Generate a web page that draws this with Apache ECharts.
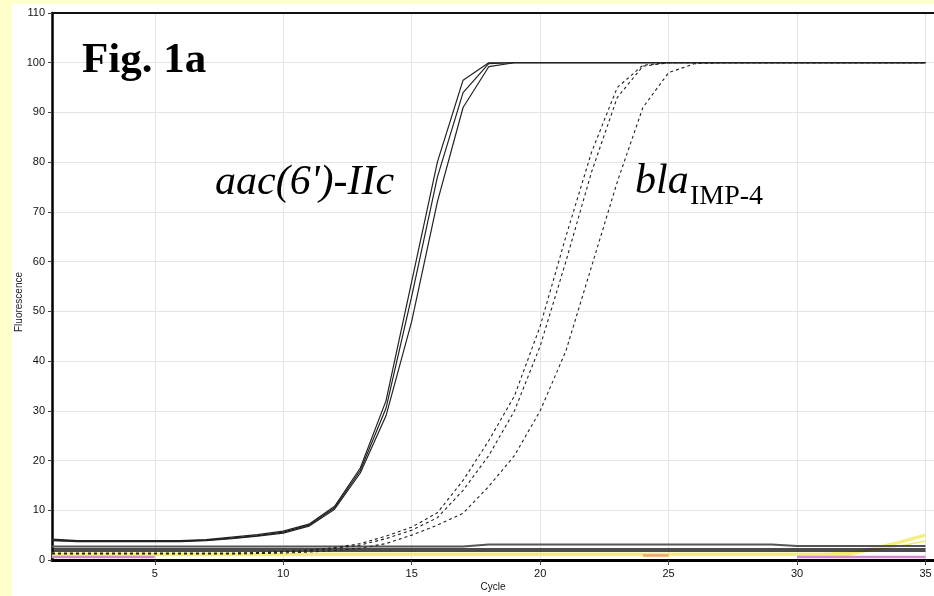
<!DOCTYPE html>
<html><head><meta charset="utf-8">
<script src="https://cdn.jsdelivr.net/npm/echarts@6/dist/echarts.min.js"></script>
<style>
html,body{margin:0;padding:0;background:#FFFFCC;width:934px;height:596px;overflow:hidden}
#c{position:absolute;left:12px;top:4px;width:922px;height:592px;background:#fff}
</style></head><body><div id="c"></div>
<script>
const cycles = [1,2,3,4,5,6,7,8,9,10,11,12,13,14,15,16,17,18,19,20,21,22,23,24,25,26,27,28,29,30,31,32,33,34,35];
const xTicks = [5,10,15,20,25,30,35];
// aac(6')-IIc (solid)
const aac1 = [4.2,3.9,3.9,3.9,3.9,3.9,4.1,4.6,5.1,5.8,7.2,10.8,18.5,32,56,80,96.5,100,100,100,100,100,100,100,100,100,100,100,100,100,100,100,100,100,100];
const aac2 = [4.0,3.8,3.8,3.8,3.8,3.8,4.0,4.4,4.9,5.6,7.0,10.5,18,30.5,53,77,94,99.8,100,100,100,100,100,100,100,100,100,100,100,100,100,100,100,100,100];
const aac3 = [3.9,3.7,3.7,3.7,3.7,3.7,3.9,4.3,4.8,5.4,6.8,10.2,17.5,29,48,72,91,99.2,100,100,100,100,100,100,100,100,100,100,100,100,100,100,100,100,100];
// blaIMP-4 (dashed)
const bla1 = [1.4,1.4,1.4,1.4,1.4,1.4,1.4,1.4,1.5,1.7,2.0,2.5,3.3,4.8,6.6,9.5,16,24,33,47,65,82,95,99.5,100,100,100,100,100,100,100,100,100,100,100];
const bla2 = [1.3,1.3,1.3,1.3,1.3,1.3,1.3,1.3,1.4,1.6,1.9,2.3,3.0,4.3,6.0,8.5,14,21,30,43,60,78,93,99.3,100,100,100,100,100,100,100,100,100,100,100];
const bla3 = [1.2,1.2,1.2,1.2,1.2,1.2,1.2,1.2,1.3,1.4,1.6,1.9,2.4,3.3,5.0,7.0,9.4,14.8,21,30,42,59,76,91,98,99.8,100,100,100,100,100,100,100,100,100];
// negative controls / baselines
const baseGray = [2.7,2.7,2.7,2.7,2.7,2.7,2.7,2.7,2.7,2.7,2.7,2.7,2.7,2.7,2.7,2.7,2.7,3.1,3.1,3.1,3.1,3.1,3.1,3.1,3.1,3.1,3.1,3.1,3.1,2.8,2.8,2.8,2.8,2.8,2.8];
const baseBlack1 = [2.2,2.2,2.2,2.2,2.2,2.2,2.2,2.2,2.2,2.2,2.2,2.2,2.2,2.2,2.2,2.2,2.2,2.2,2.2,2.2,2.2,2.2,2.2,2.2,2.2,2.2,2.2,2.2,2.2,2.2,2.2,2.2,2.2,2.2,2.2];
const baseBlack2 = [1.8,1.8,1.8,1.8,1.8,1.8,1.8,1.8,1.8,1.8,1.8,1.8,1.8,1.8,1.8,1.8,1.8,1.8,1.8,1.8,1.8,1.8,1.8,1.8,1.8,1.8,1.8,1.8,1.8,1.8,1.8,1.8,1.8,1.8,1.8];
const baseYellow = [1.1,1.1,1.1,1.1,1.1,1.1,1.1,1.1,1.1,1.1,1.1,1.1,1.1,1.1,1.1,1.1,1.1,1.1,1.1,1.1,1.1,1.1,1.1,1.1,1.1,1.1,1.1,1.1,1.1,1.1,1.1,1.1,2.3,3.6,5.0];
const baseYellow2 = [1.3,1.3,1.3,1.3,1.3,1.3,1.3,1.3,1.3,1.3,1.3,1.3,1.3,1.3,1.3,1.3,1.3,1.3,1.3,1.3,1.3,1.3,1.3,1.3,1.3,1.3,1.3,1.3,1.3,1.3,1.3,1.5,2.0,2.8,3.8];
const basePink = [0.6,0.6,0.6,0.6,0.6,null,null,null,null,null,null,null,null,null,null,null,null,null,null,null,null,null,null,null,null,null,null,null,null,0.6,0.6,0.6,0.6,0.6,0.6];
const baseOrange = [null,null,null,null,null,null,null,null,null,null,null,null,null,null,null,null,null,null,null,null,null,null,null,0.9,0.9,null,null,null,null,null,null,null,null,null,null];

const pairs = v => cycles.map((c, i) => [c, v[i]]);
const font = 'Liberation Sans, Arial, sans-serif';
const serif = 'Liberation Serif, Times New Roman, serif';

function line(v, color, width, type, z) {
  return { type: 'line', data: pairs(v), showSymbol: false, symbol: 'none', connectNulls: false,
    lineStyle: { color: color, width: width, type: type || 'solid' }, z: z || 2, silent: true, animation: false };
}

const chart = echarts.init(document.getElementById('c'));
chart.setOption({
  animation: false,
  grid: { left: 40, right: 0, top: 9, bottom: 36, containLabel: false, outerBoundsMode: 'none' },
  xAxis: [{
    type: 'value', min: 1, max: 35.33,
    name: 'Cycle', nameLocation: 'middle', nameGap: 22, nameMoveOverlap: false,
    nameTextStyle: { fontFamily: font, fontSize: 10, color: '#111' },
    axisLine: { show: true, onZero: false, lineStyle: { color: '#000', width: 3 } },
    axisTick: { show: true, customValues: xTicks, length: 5, lineStyle: { color: '#444', width: 1 } },
    axisLabel: { customValues: xTicks, fontFamily: font, fontSize: 11, color: '#111', margin: 8 },
    splitLine: { show: true, lineStyle: { color: '#e4e4e4', width: 1 } }
  }, {
    type: 'value', min: 1, max: 35.33, position: 'top',
    axisLine: { show: true, onZero: false, lineStyle: { color: '#111', width: 2 } },
    axisTick: { show: false }, axisLabel: { show: false }, splitLine: { show: false }
  }],
  yAxis: {
    type: 'value', min: 0, max: 110, interval: 10,
    axisLine: { show: true, onZero: false, lineStyle: { color: '#000', width: 2.5 } },
    axisTick: { show: true, length: 4, lineStyle: { color: '#444', width: 1 } },
    axisLabel: { fontFamily: font, fontSize: 11, color: '#111', margin: 7 },
    splitLine: { show: true, lineStyle: { color: '#e4e4e4', width: 1 } }
  },
  series: [
    line(baseYellow, '#f5ef80', 3.5, 'solid', 1),
    line(baseYellow2, '#f2ea6a', 1.5, 'solid', 1),
    line(basePink, '#d48ad0', 2.5, 'solid', 1),
    line(baseOrange, '#f2a27a', 2.5, 'solid', 1),
    line(baseBlack2, '#111', 1.5, 'solid', 1),
    line(baseBlack1, '#111', 1.5, 'solid', 1),
    line(baseGray, '#555', 2, 'solid', 1),
    line(bla1, '#222', 1.1, [3, 3]),
    line(bla2, '#222', 1.1, [3, 3]),
    line(bla3, '#222', 1.1, [3, 3]),
    line(aac1, '#222', 1.2),
    line(aac2, '#222', 1.2),
    line(aac3, '#222', 1.2)
  ],
  graphic: [
    { type: 'text', x: 7, y: 298, rotation: Math.PI / 2, z: 100,
      style: { text: 'Fluorescence', fontFamily: font, fontSize: 10, fill: '#222', align: 'center', verticalAlign: 'middle' } },
    { type: 'text', left: 70, top: 35, z: 100,
      style: { text: 'Fig. 1a', fontFamily: serif, fontWeight: 'bold', fontSize: 43, fill: '#000' } },
    { type: 'text', left: 203, top: 158, z: 100,
      style: { text: "aac(6')-IIc", fontFamily: serif, fontStyle: 'italic', fontSize: 42, fill: '#000' } },
    { type: 'text', left: 623, top: 157, z: 100,
      style: { text: 'bla', fontFamily: serif, fontStyle: 'italic', fontSize: 42, fill: '#000' } },
    { type: 'text', left: 678, top: 179, z: 100,
      style: { text: 'IMP-4', fontFamily: serif, fontSize: 28, fill: '#000' } }
  ]
});
</script></body></html>
